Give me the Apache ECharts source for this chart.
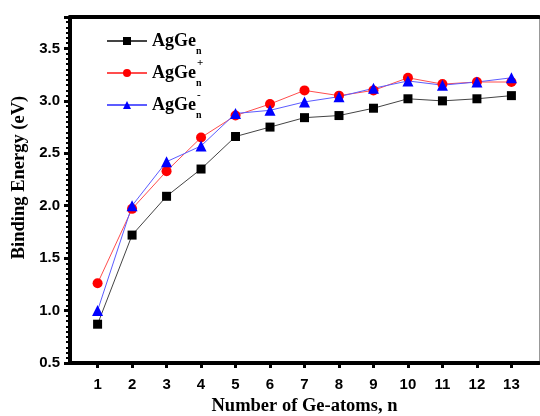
<!DOCTYPE html>
<html>
<head>
<meta charset="utf-8">
<script src="https://cdn.jsdelivr.net/npm/echarts@6/dist/echarts.min.js"></script>
<style>
  html, body { margin: 0; padding: 0; background: #fff; }
  #chart { width: 540px; height: 416px; }
</style>
</head>
<body>
<div id="chart"></div>
<script>
// number of Ge atoms
const nValues = [1, 2, 3, 4, 5, 6, 7, 8, 9, 10, 11, 12, 13]
// binding energies (eV)
const neutral = [0.87, 1.72, 2.09, 2.35, 2.66, 2.75, 2.84, 2.86, 2.93, 3.02, 3.00, 3.02, 3.05]
const cation = [1.26, 1.97, 2.33, 2.65, 2.86, 2.97, 3.10, 3.05, 3.10, 3.22, 3.16, 3.18, 3.18]
const anion = [1.00, 2.00, 2.42, 2.57, 2.88, 2.91, 2.99, 3.04, 3.12, 3.19, 3.15, 3.18, 3.22]
const seriesNames = ['AgGe_n', 'AgGe_n+', 'AgGe_n-']

const zip = (ys) => nValues.map((n, i) => [n, ys[i]])

const labelFont = { fontFamily: 'Liberation Sans', fontWeight: 'bold', fontSize: 15, color: '#000' }
const titleFont = { fontFamily: 'Liberation Serif', fontWeight: 'bold', fontSize: 18.5, color: '#000' }

const chart = echarts.init(document.getElementById('chart'))

const option = {
  backgroundColor: '#fff',
  animation: false,
  grid: { left: 70, top: 17, right: 1, bottom: 53, outerBoundsMode: 'none' },
  legend: {
    orient: 'vertical',
    left: 101,
    top: 27,
    itemWidth: 40,
    itemHeight: 10,
    itemGap: 2,
    data: seriesNames,
    formatter: (name) => {
      if (name === 'AgGe_n+') return '{b|AgGe}{sub|n}{sup|+}'
      if (name === 'AgGe_n-') return '{b|AgGe}{sub|n}{sup|-}'
      return '{b|AgGe}{sub|n}'
    },
    textStyle: {
      rich: {
        b: { fontFamily: 'Liberation Serif', fontWeight: 'bold', fontSize: 18, lineHeight: 30, color: '#000' },
        sub: { fontFamily: 'Liberation Serif', fontWeight: 'bold', fontSize: 10, lineHeight: 12, width: 1, verticalAlign: 'bottom', color: '#000' },
        sup: { fontFamily: 'Liberation Serif', fontWeight: 'bold', fontSize: 11, lineHeight: 14, verticalAlign: 'top', color: '#000' },
      },
    },
  },
  xAxis: [
    {
      type: 'value',
      min: 0.2,
      max: 13.8,
      name: 'Number of Ge-atoms, n',
      nameLocation: 'middle',
      nameGap: 34,
      nameTextStyle: titleFont,
      splitLine: { show: false },
      axisLine: { lineStyle: { color: '#000', width: 4 } },
      axisTick: { customValues: nValues, length: 5, lineStyle: { color: '#000', width: 3 } },
      axisLabel: { customValues: nValues, margin: 14, ...labelFont },
    },
    {
      type: 'value',
      position: 'top',
      min: 0.2,
      max: 13.8,
      splitLine: { show: false },
      axisLine: { lineStyle: { color: '#000', width: 4 } },
      axisTick: { show: false },
      axisLabel: { show: false },
    },
  ],
  yAxis: [
    {
      type: 'value',
      min: 0.5,
      max: 3.8,
      interval: 0.5,
      name: 'Binding Energy (eV)',
      nameLocation: 'middle',
      nameGap: 38,
      nameTextStyle: { ...titleFont, padding: [0, 0, 0, 25] },
      splitLine: { show: false },
      axisLine: { lineStyle: { color: '#000', width: 4 } },
      axisTick: { length: 6, lineStyle: { color: '#000', width: 3 } },
      minorTick: { show: true, splitNumber: 10, length: 4, lineStyle: { color: '#000', width: 2 } },
      axisLabel: { margin: 10, showMaxLabel: false, formatter: (v) => v.toFixed(1), ...labelFont },
    },
    {
      type: 'value',
      position: 'right',
      min: 0.5,
      max: 3.8,
      splitLine: { show: false },
      axisLine: { lineStyle: { color: '#999', width: 1 } },
      axisTick: { show: false },
      axisLabel: { show: false },
    },
  ],
  series: [
    {
      name: seriesNames[0],
      type: 'line',
      data: zip(neutral),
      symbol: 'rect',
      symbolSize: 9,
      itemStyle: { color: '#000' },
      lineStyle: { color: '#444', width: 1 },
    },
    {
      name: seriesNames[1],
      type: 'line',
      data: zip(cation),
      symbol: 'circle',
      symbolSize: 10,
      itemStyle: { color: '#ff0000' },
      lineStyle: { color: '#ff4d4d', width: 1 },
    },
    {
      name: seriesNames[2],
      type: 'line',
      data: zip(anion),
      symbol: 'triangle',
      symbolSize: 11,
      itemStyle: { color: '#0000ff' },
      lineStyle: { color: '#5c5cff', width: 1 },
    },
  ],
}

chart.setOption(option)
</script>
</body>
</html>
